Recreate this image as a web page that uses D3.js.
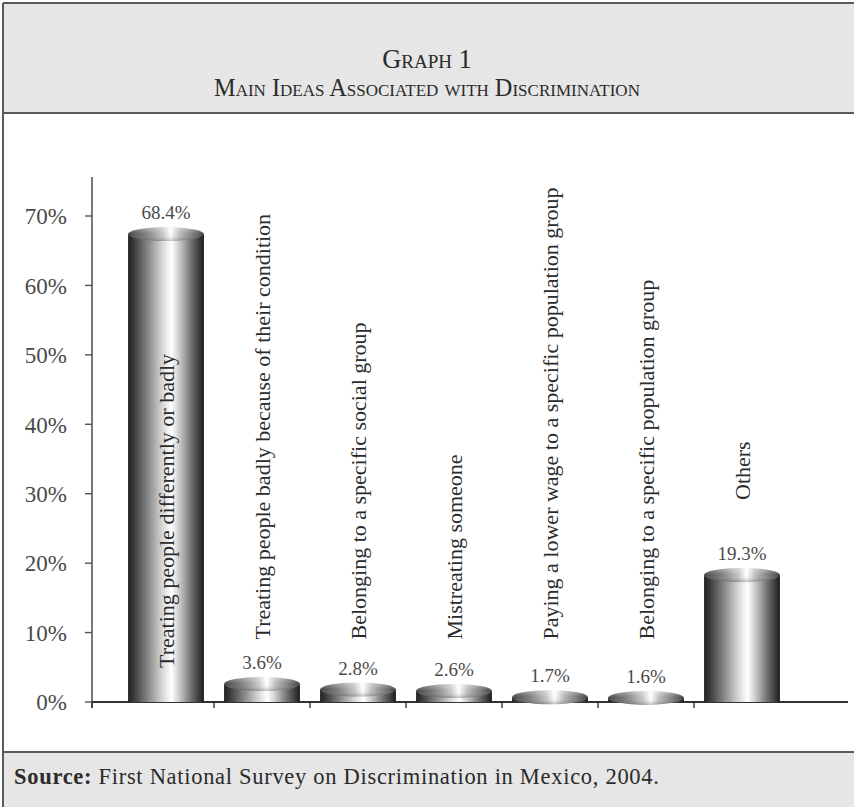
<!DOCTYPE html>
<html>
<head>
<meta charset="utf-8">
<script src="https://cdn.jsdelivr.net/npm/d3@7"></script>
<style>
  html, body { margin: 0; padding: 0; background: #ffffff; }
  svg { display: block; }
  text { font-family: "Liberation Serif", "DejaVu Serif", serif; }
</style>
</head>
<body>
<svg id="chart" width="854" height="807"></svg>
<script>
// Main ideas associated with discrimination (share of answers, %)
const categories = [
  "Treating people differently or badly",
  "Treating people badly because of their condition",
  "Belonging to a specific social group",
  "Mistreating someone",
  "Paying a lower wage to a specific population group",
  "Belonging to a specific population group",
  "Others"
];
const values = [68.4, 3.6, 2.8, 2.6, 1.7, 1.6, 19.3];
const valueLabels = ["68.4%", "3.6%", "2.8%", "2.6%", "1.7%", "1.6%", "19.3%"];
const yTicks = [0, 10, 20, 30, 40, 50, 60, 70];
const titleLine1 = "Graph 1";
const titleLine2 = "Main Ideas Associated with Discrimination";
const sourceLabel = "Source:";
const sourceText = " First National Survey on Discrimination in Mexico, 2004.";

const W = 854, H = 807;
const svg = d3.select("#chart");

// ---- frame: header band, white plot area, footer band ----
const headerTop = 3, headerBottom = 113, footerTop = 752, frameLeft = 3;
svg.append("rect").attr("x", 0).attr("y", 0).attr("width", W).attr("height", H).attr("fill", "#ffffff");
svg.append("rect").attr("x", frameLeft).attr("y", headerTop).attr("width", W).attr("height", headerBottom - headerTop)
  .attr("fill", "#e6e6e6");
svg.append("rect").attr("x", frameLeft).attr("y", footerTop).attr("width", W).attr("height", H - footerTop + 5)
  .attr("fill", "#e6e6e6");
const frame = svg.append("g").attr("stroke", "#5a5a5a").attr("stroke-width", 2).attr("fill", "none");
frame.append("line").attr("x1", frameLeft).attr("x2", W + 2).attr("y1", headerTop).attr("y2", headerTop);
frame.append("line").attr("x1", frameLeft).attr("x2", frameLeft).attr("y1", headerTop).attr("y2", H + 2);
frame.append("line").attr("x1", frameLeft).attr("x2", W + 2).attr("y1", headerBottom).attr("y2", headerBottom);
frame.append("line").attr("x1", frameLeft).attr("x2", W + 2).attr("y1", footerTop).attr("y2", footerTop);

// ---- title in small capitals ----
const title = svg.append("g").attr("fill", "#2b2b2b").attr("text-anchor", "middle")
  .style("font-variant", "small-caps");
title.append("text").attr("x", 427).attr("y", 68).attr("font-size", 26.5).text(titleLine1);
title.append("text").attr("x", 427).attr("y", 96).attr("font-size", 24.3).text(titleLine2);

// ---- source note ----
const src = svg.append("text").attr("x", 14).attr("y", 784).attr("font-size", 22.5)
  .attr("letter-spacing", 0.7).attr("fill", "#2b2b2b");
src.append("tspan").attr("font-weight", "bold").text(sourceLabel);
src.append("tspan").text(sourceText);

// ---- scales ----
const x0 = 92, baseY = 702;
const y = d3.scaleLinear().domain([0, 70]).range([baseY, 216]);
const x = d3.scaleBand().domain(categories).range([118, 790]).paddingInner(0.21).paddingOuter(0.105);
const step = x.step(), bw = x.bandwidth();

// ---- gradients for the cylinders ----
const defs = svg.append("defs");
const bodyGrad = defs.append("linearGradient").attr("id", "cylBody").attr("x1", 0).attr("x2", 1).attr("y1", 0).attr("y2", 0);
[[0, "#202020"], [0.08, "#3c3c3c"], [0.28, "#8e8e8e"], [0.45, "#d6d6d6"], [0.57, "#ffffff"],
 [0.66, "#d4d4d4"], [0.84, "#6c6c6c"], [1, "#1c1c1c"]]
  .forEach(([o, c]) => bodyGrad.append("stop").attr("offset", o).attr("stop-color", c));
const topGrad = defs.append("linearGradient").attr("id", "cylTop").attr("x1", 0).attr("x2", 1).attr("y1", 0).attr("y2", 0);
[[0, "#444444"], [0.25, "#828282"], [0.45, "#c4c4c4"], [0.56, "#ffffff"],
 [0.68, "#bababa"], [0.88, "#707070"], [1, "#404040"]]
  .forEach(([o, c]) => topGrad.append("stop").attr("offset", o).attr("stop-color", c));
const topShade = defs.append("linearGradient").attr("id", "cylTopShade").attr("x1", 0).attr("x2", 0).attr("y1", 0).attr("y2", 1);
[[0, "#ffffff", 0.35], [0.5, "#ffffff", 0.0], [1, "#000000", 0.25]]
  .forEach(([o, c, a]) => topShade.append("stop").attr("offset", o).attr("stop-color", c).attr("stop-opacity", a));

// ---- axes ----
const axisY = svg.append("g");
axisY.append("line").attr("x1", x0).attr("x2", x0).attr("y1", y(75.6)).attr("y2", baseY + 6)
  .attr("stroke", "#555").attr("stroke-width", 1.6);
axisY.selectAll("line.tick").data(yTicks).join("line").attr("class", "tick")
  .attr("x1", x0 - 7).attr("x2", x0).attr("y1", d => y(d)).attr("y2", d => y(d))
  .attr("stroke", "#555").attr("stroke-width", 1.4);
axisY.selectAll("text").data(yTicks).join("text")
  .attr("x", 67).attr("y", d => y(d)).attr("dy", "0.36em").attr("text-anchor", "end")
  .attr("font-size", 23).attr("fill", "#4a4a4a").text(d => d + "%");

const axisX = svg.append("g");
axisX.append("line").attr("x1", x0).attr("x2", 848).attr("y1", baseY).attr("y2", baseY)
  .attr("stroke", "#333").attr("stroke-width", 1.8);
const boundaries = [x0].concat(categories.slice(1).map(c => x(c) - (step - bw) / 2));
axisX.selectAll("line.tick").data(boundaries).join("line").attr("class", "tick")
  .attr("x1", d => d).attr("x2", d => d).attr("y1", baseY).attr("y2", baseY + 6)
  .attr("stroke", "#333").attr("stroke-width", 1.4);

// ---- cylinders ----
const ry = 7;
const bars = svg.append("g").selectAll("g").data(categories.map((c, i) => ({ c, v: values[i], lab: valueLabels[i] })))
  .join("g");
bars.append("rect")
  .attr("x", d => x(d.c)).attr("width", bw)
  .attr("y", d => y(d.v) + ry).attr("height", d => baseY - (y(d.v) + ry))
  .attr("fill", "url(#cylBody)");
bars.append("ellipse")
  .attr("cx", d => x(d.c) + bw / 2).attr("cy", d => y(d.v) + ry)
  .attr("rx", bw / 2).attr("ry", ry).attr("fill", "url(#cylTop)");
bars.append("ellipse")
  .attr("cx", d => x(d.c) + bw / 2).attr("cy", d => y(d.v) + ry)
  .attr("rx", bw / 2).attr("ry", ry).attr("fill", "url(#cylTopShade)");

// value labels above each cylinder
bars.append("text")
  .attr("x", d => x(d.c) + bw / 2).attr("y", d => y(d.v) - 8)
  .attr("text-anchor", "middle").attr("font-size", 19).attr("fill", "#4a4a4a")
  .text(d => d.lab);

// category names, written upwards; the tall bar carries its name inside,
// short bars share one starting line above their value labels
bars.append("text")
  .attr("transform", d => {
    const cx = x(d.c) + bw / 2;
    const start = d.v > 40 ? baseY - 34 : (d.v > 10 ? y(d.v) - 68 : y(9));
    return `translate(${cx},${start}) rotate(-90)`;
  })
  .attr("dy", "0.35em").attr("text-anchor", "start")
  .attr("font-size", 22).attr("fill", "#2b2b2b")
  .text(d => d.c);
</script>
</body>
</html>
